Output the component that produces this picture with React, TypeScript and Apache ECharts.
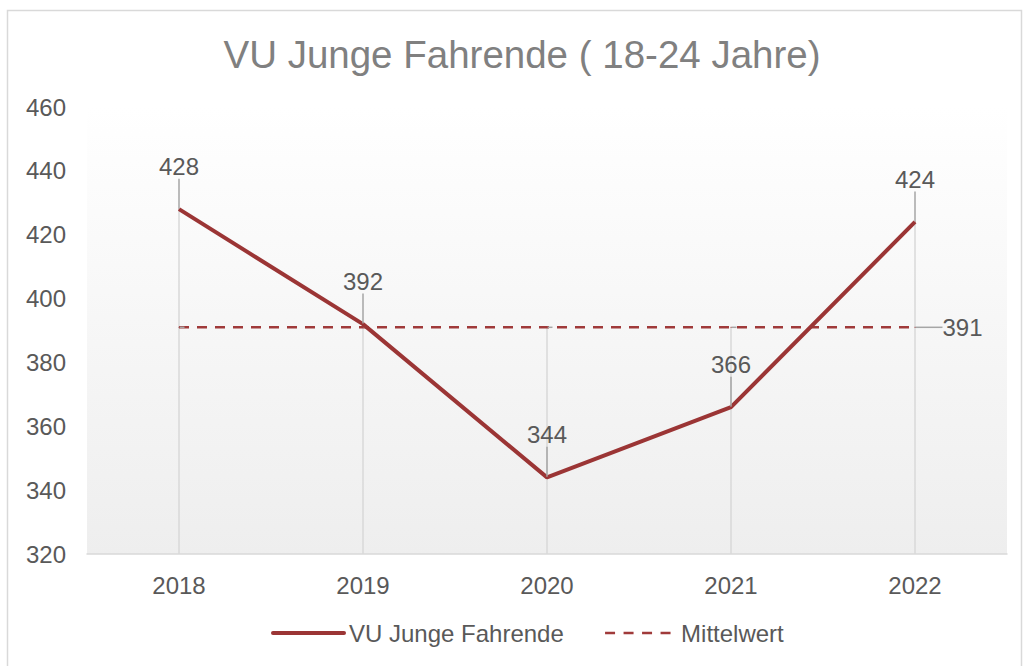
import React, { useEffect, useRef } from "react";
import * as echarts from "echarts";

const titleText = "VU Junge Fahrende ( 18-24 Jahre)";
const categories = ["2018", "2019", "2020", "2021", "2022"];
const accidents = [428, 392, 344, 366, 424];
const meanValues = [391, 391, 391, 391, 391];
const seriesNames = ["VU Junge Fahrende", "Mittelwert"];
const yMin = 320;
const yMax = 460;
const yStep = 20;

export default function App() {
  const ref = useRef<HTMLDivElement>(null);
  useEffect(() => {
    if (!ref.current) return;
    const chart = echarts.init(ref.current, null, { renderer: "svg" });
    const dropData = categories.map((_, i) => [i, Math.max(accidents[i], meanValues[i])]);
    const textColor = "#595959";
    const mainColor = "#9b3535";
    const meanColor = "#a03a3a";
    chart.setOption({
      animation: false,
      textStyle: { fontFamily: "Liberation Sans, Arial, sans-serif" },
      title: {
        text: titleText,
        left: 517,
        top: 30,
        textAlign: "center",
        textStyle: { fontSize: 38.5, fontWeight: "normal", color: "#808080", fontFamily: "Liberation Sans, Arial, sans-serif" },
      },
      graphic: [
        {
          type: "rect",
          shape: { x: 7.5, y: 10.5, width: 1014, height: 680 },
          style: { fill: "none", stroke: "#d9d9d9", lineWidth: 1.5 },
          silent: true,
        },
      ],
      grid: {
        left: 87,
        right: 17,
        top: 107,
        bottom: 112,
        show: true,
        borderWidth: 0,
        backgroundColor: new echarts.graphic.LinearGradient(0, 0, 0, 1, [
          { offset: 0, color: "#ffffff" },
          { offset: 1, color: "#eeeeee" },
        ]),
      },
      legend: {
        data: [
          { name: seriesNames[0], itemStyle: { opacity: 0 }, lineStyle: { width: 4, color: mainColor, cap: "round" } },
          { name: seriesNames[1], itemStyle: { opacity: 0 }, lineStyle: { width: 2.5, color: meanColor, type: [10, 8.5] } },
        ],
        bottom: 16,
        left: 266,
        itemWidth: 71,
        itemHeight: 14,
        itemGap: 40,
        textStyle: { fontSize: 24, color: textColor },
      },
      xAxis: {
        type: "category",
        data: categories,
        boundaryGap: true,
        axisLine: { lineStyle: { color: "#d9d9d9", width: 1.5 } },
        axisTick: { show: false },
        axisLabel: { fontSize: 24, color: textColor, margin: 19 },
        splitLine: { show: false },
      },
      yAxis: {
        type: "value",
        min: yMin,
        max: yMax,
        interval: yStep,
        axisLine: { show: false },
        axisTick: { show: false },
        splitLine: { show: false },
        axisLabel: { fontSize: 24, color: textColor, margin: 21 },
      },
      series: [
        {
          type: "custom",
          name: "drop",
          z: 1,
          silent: true,
          data: dropData,
          renderItem: (params: any, api: any) => {
            const top = api.coord([api.value(0), api.value(1)]);
            const bot = api.coord([api.value(0), yMin]);
            return {
              type: "line",
              shape: { x1: top[0], y1: top[1], x2: bot[0], y2: bot[1] },
              style: { stroke: "#d9d9d9", lineWidth: 1.5 },
            };
          },
        },
        {
          type: "line",
          name: seriesNames[1],
          data: meanValues,
          z: 3,
          symbol: "circle",
          symbolSize: 1,
          showSymbol: true,
          lineStyle: { color: meanColor, width: 2.5, type: [10, 8] },
          itemStyle: { color: meanColor },
          label: {
            show: true,
            position: "right",
            distance: 5,
            fontSize: 24,
            color: textColor,
            formatter: (p: any) => (p.dataIndex === categories.length - 1 ? String(p.value) : ""),
          },
          labelLayout: (p: any) => (p.dataIndex === categories.length - 1 ? { dx: 22 } : {}),
          labelLine: { show: true, lineStyle: { color: "#a6a6a6", width: 1.5 } },
        },
        {
          type: "line",
          name: seriesNames[0],
          data: accidents,
          z: 4,
          symbol: "circle",
          symbolSize: 1,
          showSymbol: true,
          lineStyle: { color: mainColor, width: 4 },
          itemStyle: { color: mainColor },
          label: {
            show: true,
            position: "top",
            distance: 5,
            fontSize: 24,
            color: textColor,
          },
          labelLayout: { dy: -25 },
          labelLine: { show: true, lineStyle: { color: "#a6a6a6", width: 1.5 } },
        },
      ],
    });
    return () => chart.dispose();
  }, []);
  return (
    <div
      ref={ref}
      style={{ position: "absolute", left: 0, top: 0, width: 1024, height: 666, background: "#ffffff" }}
    />
  );
}
